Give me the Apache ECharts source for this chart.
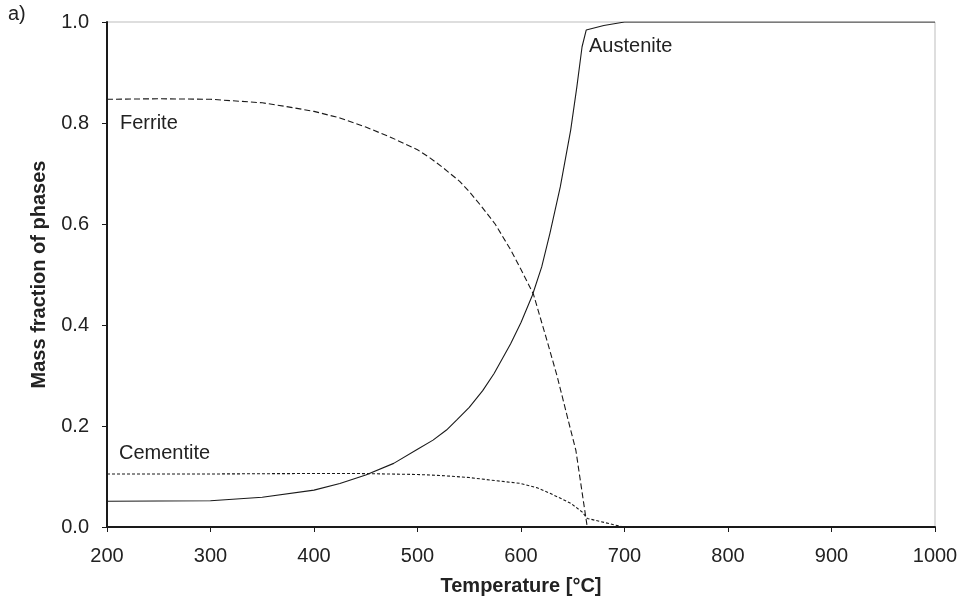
<!DOCTYPE html>
<html>
<head>
<meta charset="utf-8">
<script src="https://cdn.jsdelivr.net/npm/echarts@6/dist/echarts.min.js"></script>
<style>
  html, body { margin: 0; padding: 0; background: #fff; }
  #chart { width: 969px; height: 601px; }
</style>
</head>
<body>
<div id="chart"></div>
<script>
// temperatures [°C] and mass fractions
const ferriteT = [200, 250, 300, 350, 375, 400, 425, 450, 475, 500, 512, 525, 541, 550, 561, 575, 590, 600, 612, 625, 635, 648, 653, 664, 700, 1000]
const ferriteV = [0.847, 0.848, 0.847, 0.840, 0.832, 0.823, 0.810, 0.792, 0.771, 0.747, 0.731, 0.711, 0.684, 0.664, 0.637, 0.600, 0.549, 0.510, 0.461, 0.370, 0.298, 0.192, 0.152, 0, 0, 0]

const austeniteT = [200, 300, 350, 400, 425, 450, 477, 500, 515, 528, 538, 550, 563, 574, 590, 600, 611, 620, 628, 638, 648, 654, 659, 663, 680, 700, 1000]
const austeniteV = [0.051, 0.052, 0.059, 0.073, 0.086, 0.103, 0.126, 0.154, 0.172, 0.192, 0.212, 0.237, 0.27, 0.304, 0.363, 0.405, 0.459, 0.515, 0.582, 0.674, 0.786, 0.872, 0.951, 0.984, 0.993, 1.0, 1.0]

const cementiteT = [200, 300, 400, 440, 470, 500, 522, 550, 570, 599, 615, 628, 640, 648, 659, 664, 699, 1000]
const cementiteV = [0.105, 0.105, 0.106, 0.106, 0.105, 0.104, 0.102, 0.098, 0.093, 0.0865, 0.078, 0.0667, 0.055, 0.047, 0.030, 0.017, 0, 0]

const xTicks = [200, 300, 400, 500, 600, 700, 800, 900, 1000]
const yTicks = [0.0, 0.2, 0.4, 0.6, 0.8, 1.0]

const pairs = (t, v) => t.map((x, i) => [x, v[i]])

const chart = echarts.init(document.getElementById('chart'))
const font = 'Liberation Sans, Arial, sans-serif'

chart.setOption({
  animation: false,
  grid: {
    left: 107,
    right: 34,
    top: 22,
    bottom: 74,
    show: true,
    borderColor: '#bdbdbd',
    borderWidth: 1
  },
  xAxis: {
    type: 'value',
    min: xTicks[0],
    max: xTicks[xTicks.length - 1],
    interval: 100,
    name: 'Temperature [°C]',
    nameLocation: 'middle',
    nameGap: 49,
    nameTextStyle: { fontFamily: font, fontSize: 20, fontWeight: 'bold', color: '#222' },
    axisLine: { lineStyle: { color: '#1a1a1a', width: 2 } },
    axisTick: { length: 5, lineStyle: { color: '#1a1a1a', width: 1 } },
    axisLabel: { fontFamily: font, fontSize: 20, color: '#222', margin: 19, formatter: v => String(v) },
    splitLine: { show: false }
  },
  yAxis: {
    type: 'value',
    min: yTicks[0],
    max: yTicks[yTicks.length - 1],
    interval: 0.2,
    name: 'Mass fraction of phases',
    nameLocation: 'middle',
    nameGap: 58,
    nameTextStyle: { fontFamily: font, fontSize: 20, fontWeight: 'bold', color: '#222' },
    axisLine: { lineStyle: { color: '#1a1a1a', width: 2 } },
    axisTick: { length: 5, lineStyle: { color: '#1a1a1a', width: 1 } },
    axisLabel: {
      fontFamily: font, fontSize: 20, color: '#222', margin: 18,
      formatter: v => v.toFixed(1)
    },
    splitLine: { show: false }
  },
  series: [
    {
      name: 'Ferrite',
      type: 'line',
      symbol: 'none',
      data: pairs(ferriteT, ferriteV),
      lineStyle: { color: '#1a1a1a', width: 1.1, type: [6, 3] },
      z: 3
    },
    {
      name: 'Austenite',
      type: 'line',
      symbol: 'none',
      data: pairs(austeniteT, austeniteV),
      lineStyle: { color: '#1a1a1a', width: 1.1 },
      z: 3
    },
    {
      name: 'Cementite',
      type: 'line',
      symbol: 'none',
      data: pairs(cementiteT, cementiteV),
      lineStyle: { color: '#1a1a1a', width: 1.1, type: [3, 2] },
      z: 3
    }
  ],
  graphic: [
    { type: 'text', left: 8, top: 4, style: { text: 'a)', font: '20px ' + font, fill: '#222' } },
    { type: 'text', left: 120, top: 113, style: { text: 'Ferrite', font: '20px ' + font, fill: '#222' } },
    { type: 'text', left: 119, top: 443, style: { text: 'Cementite', font: '20px ' + font, fill: '#222' } },
    { type: 'text', left: 589, top: 36, style: { text: 'Austenite', font: '20px ' + font, fill: '#222' } }
  ]
})
</script>
</body>
</html>
